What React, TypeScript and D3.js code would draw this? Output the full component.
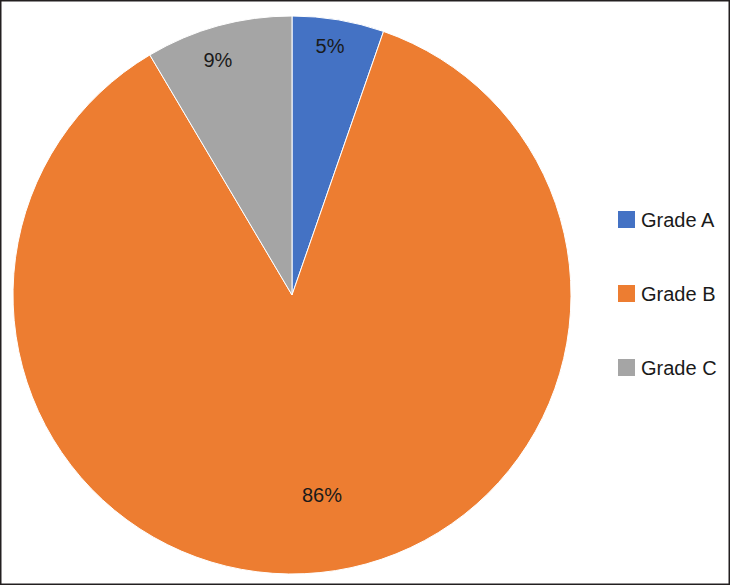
import React from "react";
import * as d3 from "d3";

const categories = ["Grade A", "Grade B", "Grade C"];
const values = [5, 81, 8];
const labels = ["5%", "86%", "9%"];
const colors = ["#4472C4", "#ED7D31", "#A5A5A5"];
const labelRadii = [252, 202, 246];
const labelAngleShiftDeg = [-0.9, -2.8, -2.2];

export default function App() {
  const W = 731, H = 586;
  const cx = 292, cy = 295, R = 279;
  const pie = d3.pie<number>().sort(null).value((d) => d)(values);
  const arc = d3.arc<d3.PieArcDatum<number>>().innerRadius(0).outerRadius(R);
  const legendX = 618, legendY0 = 211, legendStep = 74;
  return (
    <svg width={W} height={H} style={{ position: "absolute", left: 0, top: 0, background: "#fff" }}
      fontFamily="'Liberation Sans', Arial, sans-serif">
      <rect x={0.75} y={0.75} width={W - 2.5} height={H - 2.5} fill="#fff" stroke="#231f20" strokeWidth={1.5} />
      <g transform={`translate(${cx},${cy})`}>
        {pie.map((p, i) => (
          <path key={i} d={arc(p) || ""} fill={colors[i]} stroke="#fff" strokeWidth={1} />
        ))}
        {pie.map((p, i) => {
          const a = (p.startAngle + p.endAngle) / 2 + (labelAngleShiftDeg[i] * Math.PI) / 180;
          const r = labelRadii[i];
          return (
            <text key={i} x={r * Math.sin(a)} y={-r * Math.cos(a)} textAnchor="middle"
              dominantBaseline="central" fontSize={20} fill="#1a1a1a">{labels[i]}</text>
          );
        })}
      </g>
      {categories.map((c, i) => (
        <g key={c} transform={`translate(${legendX},${legendY0 + i * legendStep})`}>
          <rect width={17} height={17} fill={colors[i]} />
          <text x={23} y={8.5} dominantBaseline="central" fontSize={20} fill="#1a1a1a">{c}</text>
        </g>
      ))}
    </svg>
  );
}
